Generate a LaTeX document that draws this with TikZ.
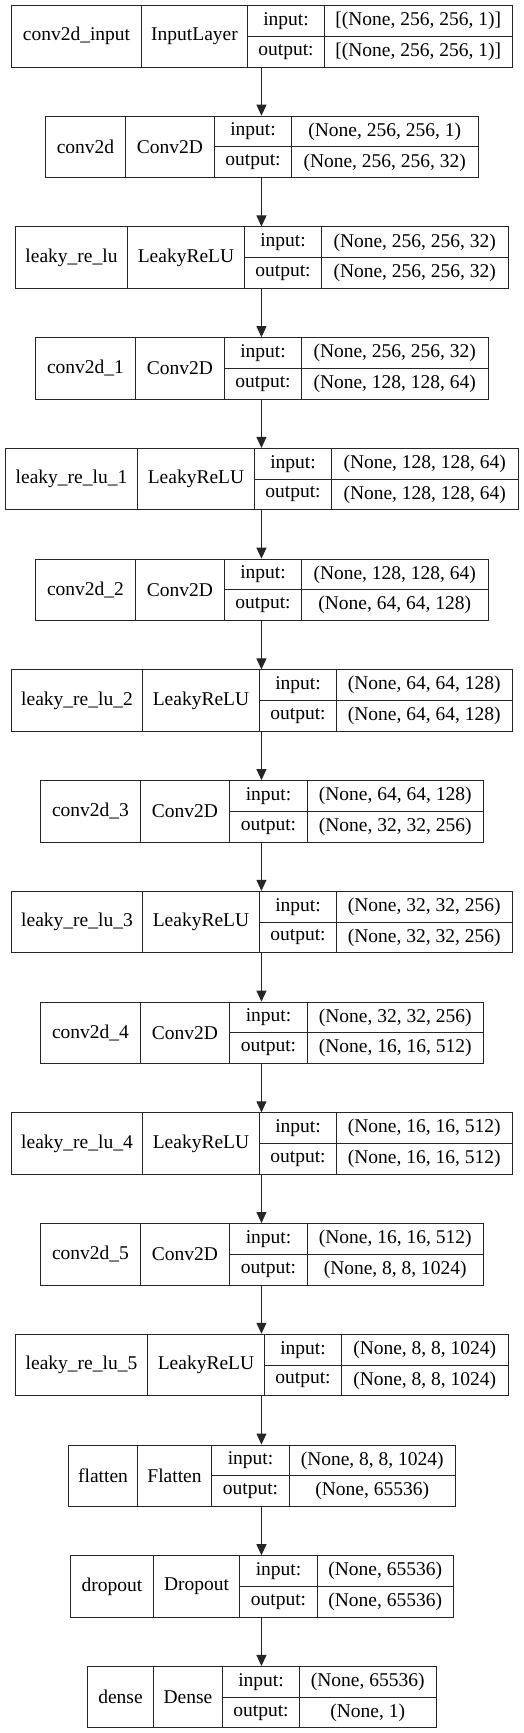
\documentclass[tikz,border=0pt]{standalone}
\usepackage{fontspec}
\setmainfont{Liberation Serif}
\usetikzlibrary{arrows.meta}

\tikzset{
	layercell/.style={draw=black!85, line width=1pt, inner sep=0pt, anchor=north west},
	link/.style={draw=black!85, line width=1pt, -{Triangle[width=10pt,length=11pt]}},
}

% row, left edge, three inner edges, name, class, input, output
\newcommand{\layer}[9]{%
	\pgfmathsetmacro{\ytop}{5+110.73*#1}%
	\pgfmathsetmacro{\ymid}{\ytop+30.75}%
	\pgfmathsetmacro{\xend}{522.5-#2}%
	\node[anchor=north west, inner sep=0pt, minimum width={522.5-2*#2}, minimum height=61.5] (L#1) at (#2,\ytop) {};%
	\node[layercell, minimum width={#3-#2}, minimum height=61.5] (L#1-name) at (#2,\ytop) {#6};%
	\node[layercell, minimum width={#4-#3}, minimum height=61.5] (L#1-class) at (#3,\ytop) {#7};%
	\node[layercell, minimum width={#5-#4}, minimum height=30.75] (L#1-inkey) at (#4,\ytop) {input:};%
	\node[layercell, minimum width={#5-#4}, minimum height=30.75] (L#1-outkey) at (#4,\ymid) {output:};%
	\node[layercell, minimum width={\xend-#5}, minimum height=30.75] (L#1-in) at (#5,\ytop) {#8};%
	\node[layercell, minimum width={\xend-#5}, minimum height=30.75] (L#1-out) at (#5,\ymid) {#9};%
}

\begin{document}
\begin{tikzpicture}[x=1pt, y=-1pt, font=\fontsize{19.5}{23}\selectfont]
	\useasboundingbox (0,0) rectangle (524,1733);

	\layer{0}{11}{141}{247}{324}{conv2d\_input}{InputLayer}{[(None, 256, 256, 1)]}{[(None, 256, 256, 1)]}
	\layer{1}{45}{125}{214}{291}{conv2d}{Conv2D}{(None, 256, 256, 1)}{(None, 256, 256, 32)}
	\layer{2}{15}{127}{244}{321}{leaky\_re\_lu}{LeakyReLU}{(None, 256, 256, 32)}{(None, 256, 256, 32)}
	\layer{3}{35}{135}{224}{301}{conv2d\_1}{Conv2D}{(None, 256, 256, 32)}{(None, 128, 128, 64)}
	\layer{4}{5}{137}{254}{331}{leaky\_re\_lu\_1}{LeakyReLU}{(None, 128, 128, 64)}{(None, 128, 128, 64)}
	\layer{5}{35}{135}{224}{301}{conv2d\_2}{Conv2D}{(None, 128, 128, 64)}{(None, 64, 64, 128)}
	\layer{6}{11}{142}{259}{336}{leaky\_re\_lu\_2}{LeakyReLU}{(None, 64, 64, 128)}{(None, 64, 64, 128)}
	\layer{7}{40}{140}{229}{307}{conv2d\_3}{Conv2D}{(None, 64, 64, 128)}{(None, 32, 32, 256)}
	\layer{8}{11}{142}{259}{336}{leaky\_re\_lu\_3}{LeakyReLU}{(None, 32, 32, 256)}{(None, 32, 32, 256)}
	\layer{9}{40}{140}{229}{307}{conv2d\_4}{Conv2D}{(None, 32, 32, 256)}{(None, 16, 16, 512)}
	\layer{10}{11}{142}{259}{336}{leaky\_re\_lu\_4}{LeakyReLU}{(None, 16, 16, 512)}{(None, 16, 16, 512)}
	\layer{11}{40}{140}{229}{307}{conv2d\_5}{Conv2D}{(None, 16, 16, 512)}{(None, 8, 8, 1024)}
	\layer{12}{15}{147}{264}{341}{leaky\_re\_lu\_5}{LeakyReLU}{(None, 8, 8, 1024)}{(None, 8, 8, 1024)}
	\layer{13}{68}{137}{211}{289}{flatten}{Flatten}{(None, 8, 8, 1024)}{(None, 65536)}
	\layer{14}{70}{153}{239}{317}{dropout}{Dropout}{(None, 65536)}{(None, 65536)}
	\layer{15}{87}{153}{222}{299}{dense}{Dense}{(None, 65536)}{(None, 1)}

	\draw[link] (L0) -- (L1);
	\draw[link] (L1) -- (L2);
	\draw[link] (L2) -- (L3);
	\draw[link] (L3) -- (L4);
	\draw[link] (L4) -- (L5);
	\draw[link] (L5) -- (L6);
	\draw[link] (L6) -- (L7);
	\draw[link] (L7) -- (L8);
	\draw[link] (L8) -- (L9);
	\draw[link] (L9) -- (L10);
	\draw[link] (L10) -- (L11);
	\draw[link] (L11) -- (L12);
	\draw[link] (L12) -- (L13);
	\draw[link] (L13) -- (L14);
	\draw[link] (L14) -- (L15);
\end{tikzpicture}
\end{document}
